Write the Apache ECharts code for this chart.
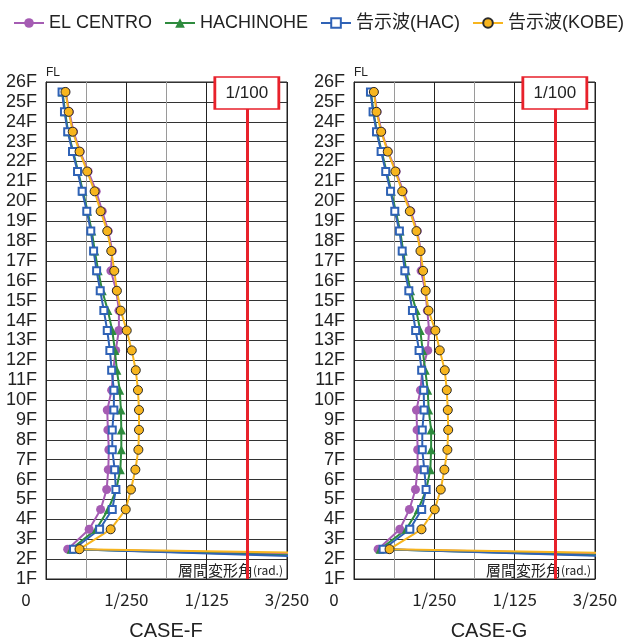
<!DOCTYPE html>
<html>
<head>
<meta charset="utf-8">
<script src="https://cdn.jsdelivr.net/npm/echarts@6/dist/echarts.min.js"></script>
<style>html,body{margin:0;padding:0;background:#fff}#c{width:630px;height:640px}</style>
</head>
<body>
<div id="c"></div>
<script>
// Story mid-heights (floor positions of plotted points)
const storyMid = [25.5,24.5,23.5,22.5,21.5,20.5,19.5,18.5,17.5,16.5,15.5,14.5,13.5,12.5,11.5,10.5,9.5,8.5,7.5,6.5,5.5,4.5,3.5,2.5,1.5];
const seriesNames = ['EL CENTRO','HACHINOHE','告示波(HAC)','告示波(KOBE)'];
const xTickLabels = {0:'0',4:'1/250',8:'1/125',12:'3/250'};
const caseNames = ['CASE-F','CASE-G'];
const limitValue = 0.01;
const limitLabel = '1/100';

// CASE-F
const elCentroF  = [0.00098,0.00116,0.00137,0.0017,0.0021,0.0025,0.0028,0.0031,0.0033,0.00323,0.0035,0.00363,0.00363,0.00347,0.00335,0.00327,0.00305,0.00308,0.00313,0.0031,0.00302,0.00272,0.00215,0.00108,0.0485];
const hachinoheF = [0.00082,0.00095,0.0011,0.00135,0.0016,0.00184,0.00207,0.00228,0.00243,0.0026,0.0028,0.00308,0.0033,0.00343,0.00353,0.00367,0.00373,0.00375,0.00375,0.0037,0.0035,0.0031,0.0025,0.00125,0.037];
const hacF       = [0.0008,0.00092,0.00108,0.00132,0.00157,0.0018,0.00203,0.00223,0.00237,0.00252,0.0027,0.00288,0.00305,0.00318,0.00327,0.00338,0.00338,0.0033,0.0033,0.00342,0.00348,0.0033,0.00267,0.00137,0.0322];
const kobeF      = [0.00097,0.00113,0.00133,0.00167,0.00205,0.00242,0.00272,0.00305,0.00325,0.0034,0.00353,0.00372,0.00402,0.00427,0.00447,0.00458,0.00463,0.00463,0.0046,0.00445,0.00423,0.00397,0.00322,0.00167,0.0662];
// CASE-G
const elCentroG  = [0.001,0.00115,0.00138,0.0017,0.0021,0.00245,0.00283,0.00315,0.00333,0.00334,0.00355,0.00365,0.00374,0.00367,0.0034,0.00331,0.00311,0.00314,0.00317,0.00316,0.00306,0.00276,0.00228,0.0012,0.05];
const hachinoheG = [0.00084,0.00097,0.00114,0.00138,0.00162,0.00186,0.00208,0.0023,0.00245,0.0026,0.00282,0.0031,0.0033,0.00342,0.00355,0.00367,0.00372,0.00384,0.00384,0.0038,0.0036,0.0032,0.0026,0.0013,0.037];
const hacG       = [0.00082,0.00095,0.00112,0.00135,0.00158,0.00182,0.00203,0.00226,0.0024,0.00253,0.00273,0.00291,0.00307,0.00324,0.00337,0.00347,0.00349,0.0034,0.0034,0.0035,0.00359,0.00337,0.00278,0.00145,0.0334];
const kobeG      = [0.00099,0.00112,0.00135,0.00168,0.00206,0.0024,0.00278,0.00311,0.00331,0.00344,0.00357,0.00371,0.00405,0.00427,0.00452,0.00462,0.00467,0.00469,0.00465,0.0045,0.00432,0.00402,0.00336,0.00177,0.0586];

const panels = [[elCentroF,hachinoheF,hacF,kobeF],[elCentroG,hachinoheG,hacG,kobeG]];

const styles = [
  {symbol:'circle', symbolSize:9, itemStyle:{color:'#a55cb3'}, lineStyle:{color:'#a55cb3',width:2}},
  {symbol:'triangle', symbolSize:9, itemStyle:{color:'#2e8b3e'}, lineStyle:{color:'#2e8b3e',width:2}},
  {symbol:'emptyRect', symbolSize:7, itemStyle:{color:'#2f62b6',borderWidth:1.2}, lineStyle:{color:'#2f62b6',width:2}},
  {symbol:'circle', symbolSize:9, itemStyle:{color:'#f7b51e',borderColor:'#2a2a2a',borderWidth:1}, lineStyle:{color:'#f7b51e',width:2}}
];

const labelFont = "'Liberation Sans','Noto Sans CJK JP',sans-serif";
const grids = [
  {left:46, right:343, top:82, bottom:61, show:true, borderColor:'#222', borderWidth:1},
  {left:354, right:35, top:82, bottom:61, show:true, borderColor:'#222', borderWidth:1}
];

const xAxes = grids.map((g,i)=>({
  gridIndex:i, type:'value', min:0, max:0.012, interval:0.002,
  axisLine:{show:true, lineStyle:{color:'#222',width:1}},
  axisTick:{show:false},
  splitLine:{show:true, lineStyle:{color:['#222','#9a9a9a'], width:1}},
  axisLabel:{
    margin:12, color:'#222', fontSize:17, fontFamily:"'Noto Sans CJK JP',sans-serif",
    formatter:function(v){const k=Math.round(v*1000); if(k===0) return '{z|'+xTickLabels[0]+'}'; return xTickLabels[k]||'';},
    rich:{z:{fontSize:17, fontFamily:"'Noto Sans CJK JP',sans-serif", color:'#222', padding:[0,40,0,0]}}
  },
  name:'{a|層間変形角}{b|(rad.)}', nameLocation:'end', nameGap:-4,
  nameTextStyle:{align:'right', verticalAlign:'bottom', padding:[0,0,1,0],
    rich:{a:{fontSize:15, color:'#222', fontFamily:"'Noto Sans CJK JP',sans-serif"}, b:{fontSize:12, color:'#222', fontFamily:"'Noto Sans CJK JP',sans-serif"}}}
}));

const yAxes = grids.map((g,i)=>({
  gridIndex:i, type:'value', min:1, max:26, interval:1,
  axisLine:{show:true, lineStyle:{color:'#222'}},
  axisTick:{show:false},
  splitLine:{show:true, lineStyle:{color:'#333', width:1}},
  axisLabel:{margin:9, color:'#222', fontSize:18, fontFamily:"'Liberation Sans',Arial,sans-serif", formatter:'{value}F'},
  name:'FL', nameLocation:'end', nameGap:3,
  nameTextStyle:{fontSize:12, color:'#222', align:'left', fontFamily:"'Liberation Sans',Arial,sans-serif"}
}));

const series = [];
panels.forEach((vals,p)=>{
  vals.forEach((arr,s)=>{
    const obj = Object.assign({
      name:seriesNames[s], type:'line', xAxisIndex:p, yAxisIndex:p,
      clip:true, showAllSymbol:true, animation:false,
      data: arr.map((v,j)=>[v, storyMid[j]])
    }, JSON.parse(JSON.stringify(styles[s])));
    if (s===3) {
      obj.markLine = {silent:true, symbol:'none', animation:false, label:{show:false},
        lineStyle:{color:'#e8212b', width:3, type:'solid'},
        data:[[{coord:[limitValue,1]},{coord:[limitValue,24.8]}]]};
      obj.markPoint = {silent:true, animation:false, z:10,
        data:[{coord:[limitValue,25.45], value:limitLabel}],
        symbol:'rect', symbolSize:[64,32],
        itemStyle:{color:'#fff', borderColor:'#e8212b', borderWidth:2},
        label:{show:true, position:'inside', formatter:limitLabel, color:'#222', fontSize:17, fontFamily:"'Liberation Sans',Arial,sans-serif"}};
    }
    series.push(obj);
  });
});

const chart = echarts.init(document.getElementById('c'), null, {renderer:'canvas'});
chart.setOption({
  animation:false,
  backgroundColor:'#fff',
  legend:{
    top:9, left:8, itemWidth:30, itemHeight:12, itemGap:12,
    data:seriesNames,
    textStyle:{fontSize:18, color:'#222', fontFamily:labelFont}
  },
  grid:grids, xAxis:xAxes, yAxis:yAxes, series:series,
  graphic:[
    {type:'text', x:166, y:621, style:{text:caseNames[0], fontSize:20, fill:'#222', fontFamily:labelFont, textAlign:'center'}},
    {type:'text', x:489, y:621, style:{text:caseNames[1], fontSize:20, fill:'#222', fontFamily:labelFont, textAlign:'center'}}
  ]
});
</script>
</body>
</html>
